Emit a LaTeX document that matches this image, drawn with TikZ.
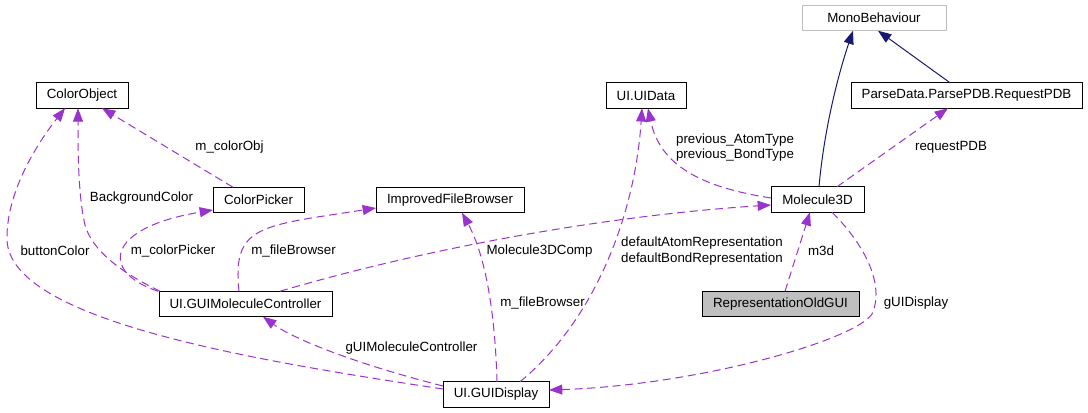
\documentclass[tikz,border=0pt]{standalone}
\usepackage{fontspec}
\setmainfont{Liberation Sans}
\usetikzlibrary{arrows.meta,calc}
\definecolor{edgepurple}{HTML}{9A32CD}
\definecolor{edgenavy}{HTML}{191970}
\definecolor{grayborder}{HTML}{BFBFBF}
\definecolor{grayfill}{HTML}{BFBFBF}
\begin{document}
\begin{tikzpicture}[x=0.75pt,y=-0.75pt,
 cls/.style={draw=black, line width=0.75pt, fill=white, inner sep=0pt, outer sep=0pt, minimum height=19.1pt, font=\fontsize{10}{12}\selectfont},
 ext/.style={cls, draw=grayborder},
 cur/.style={cls, fill=grayfill},
 lbl/.style={inner sep=0pt, align=center, font=\fontsize{10}{11.6}\selectfont},
 uses/.style={draw=edgepurple, line width=0.75pt, dash pattern=on 6pt off 3.5pt, -{Triangle[length=10pt,width=7.5pt]}},
 inherit/.style={draw=edgenavy, line width=0.75pt, -{Triangle[length=10pt,width=7.5pt]}},
]
\useasboundingbox (0,0) rectangle (1088,413);

% nodes
\node[ext, minimum width=108pt]    (mono) at (874,18)      {MonoBehaviour};
\node[cls, minimum width=173.25pt] (rpdb) at (966.5,95.5)  {ParseData.ParsePDB.RequestPDB};
\node[cls, minimum width=60pt]     (uid)  at (646,95.5)    {UI.UIData};
\node[cls, minimum width=69.75pt]  (m3d)  at (817.5,199.5) {Molecule3D};
\node[cur, minimum width=117.75pt] (rep)  at (780.5,304)   {RepresentationOldGUI};
\node[cls, minimum width=69pt]     (co)   at (82,95.5)     {ColorObject};
\node[cls, minimum width=68.25pt]  (cp)   at (258.5,200)   {ColorPicker};
\node[cls, minimum width=111pt]    (ifb)  at (450,200)     {ImprovedFileBrowser};
\node[cls, minimum width=129.75pt] (gmc)  at (245.5,304)   {UI.GUIMoleculeController};
\node[cls, minimum width=79.5pt]   (gd)   at (496,394.5)   {UI.GUIDisplay};

% inheritance
\draw[inherit] ($(m3d.north)+(1.5,0)$) .. controls (824,130) and (838,75) .. ($(mono.south)+(-21,0)$);
\draw[inherit] ($(rpdb.north)+(-16.5,0)$) -- ($(mono.south)+(4,0)$);

% usage
\draw[uses] ($(m3d.north)+(19.5,0)$) -- ($(rpdb.south)+(-18.5,0)$);
\draw[uses] ($(m3d.west)+(0,-1.5)$) .. controls (700,187) and (660,165) .. ($(uid.south)+(2,0)$);
\draw[uses] ($(gd.north)+(24,0)$) .. controls (595,320) and (635,215) .. ($(uid.south)+(-4,0)$);
\draw[uses] ($(gd.north)+(1,0)$) .. controls (495,310) and (485,255) .. ($(ifb.south)+(12,0)$);
\draw[uses] ($(gmc.north)+(34.5,0)$) .. controls (420,250) and (600,216) .. ($(m3d.west)+(0,5.5)$);
\draw[uses] ($(gmc.north)+(-6.5,0)$) .. controls (232,225) and (260,226) .. ($(ifb.west)+(0,8)$);
\draw[uses] ($(gmc.north west)+(-1,0)$) .. controls (100,272) and (105,228) .. ($(cp.west)+(0,10)$);
\draw[uses] ($(gmc.north west)+(1,0)$) .. controls (120,272) and (92,250) .. (85,225) .. controls (78,195) and (78,150) .. ($(co.south)+(-4,0)$);
\draw[uses] ($(gd.west)+(0,-5.5)$) .. controls (250,360) and (10,320) .. (7,240) .. controls (6,190) and (40,140) .. ($(co.south)+(-17,0)$);
\draw[uses] ($(gd.west)+(0,-8.5)$) .. controls (360,365) and (295,340) .. ($(gmc.south)+(17.5,0)$);
\draw[uses] ($(cp.north)+(-25.5,0)$) -- ($(co.south)+(20,0)$);
\draw[uses] ($(rep.north)+(4.5,0)$) -- ($(m3d.south)+(-7.5,0)$);
\draw[uses] ($(m3d.south)+(14.5,0)$) .. controls (865,245) and (885,285) .. (872,314) .. controls (855,340) and (700,385) .. ($(gd.east)+(0,-4.5)$);

% labels
\node[lbl] (l1)  at (951,147)   {requestPDB};
\node[lbl] (l2)  at (735,147.5) {previous\_AtomType\\previous\_BondType};
\node[lbl] (l3)  at (702,251)   {defaultAtomRepresentation\\defaultBondRepresentation};
\node[lbl] (l4)  at (542.5,303) {m\_fileBrowser};
\node[lbl] (l5)  at (539.5,251) {Molecule3DComp};
\node[lbl] (l6)  at (293.5,251) {m\_fileBrowser};
\node[lbl] (l7)  at (173,251)   {m\_colorPicker};
\node[lbl] (l8)  at (141.5,198) {BackgroundColor};
\node[lbl] (l9)  at (55,251)    {buttonColor};
\node[lbl] (l10) at (411.5,348.5) {gUIMoleculeController};
\node[lbl] (l11) at (229.5,147) {m\_colorObj};
\node[lbl] (l12) at (821,251)   {m3d};
\node[lbl] (l13) at (916,303)   {gUIDisplay};
\end{tikzpicture}
\end{document}
